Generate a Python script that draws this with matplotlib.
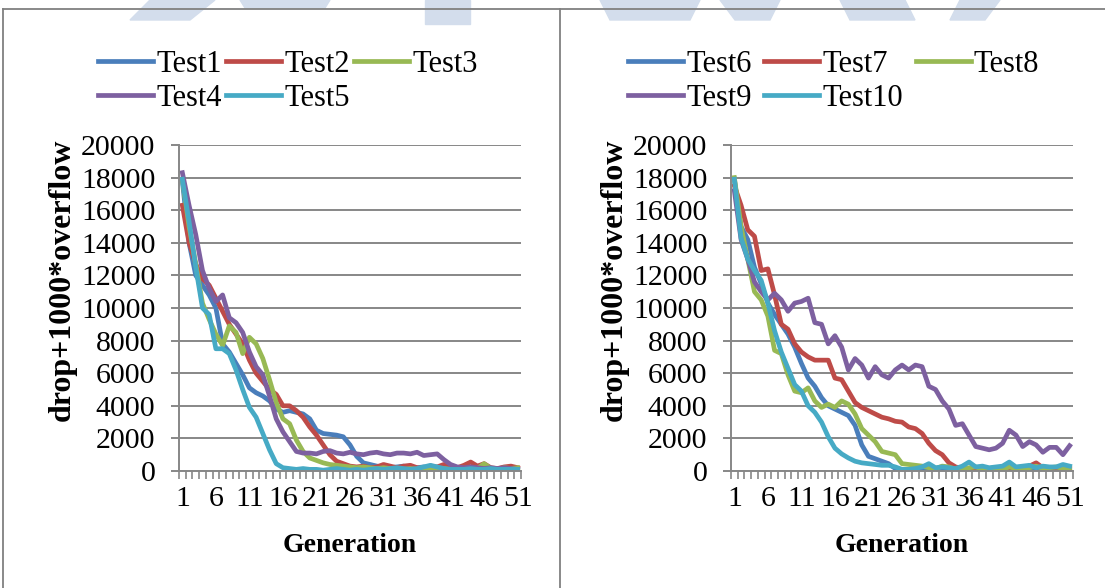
import matplotlib
matplotlib.use("Agg")
import matplotlib.pyplot as plt
from matplotlib.patches import Polygon
from matplotlib.lines import Line2D
import numpy as np

# generations 1..51
gens = np.arange(1, 52)
xtick_labels = [str(g) for g in range(1, 52, 5)]

left_names = ["Test1", "Test2", "Test3", "Test4", "Test5"]
right_names = ["Test6", "Test7", "Test8", "Test9", "Test10"]

test1 = [17800, 14000, 12000, 11400, 10800, 10000, 7800, 7300, 6600, 5900,
         5100, 4800, 4600, 4300, 3800, 3600, 3700, 3600, 3500, 3200,
         2500, 2300, 2250, 2200, 2100, 1600, 900, 500, 400, 300,
         250, 200, 250, 300, 150, 200, 250, 200, 150, 200,
         150, 100, 200, 150, 100, 200, 150, 100, 200, 150, 100]
test2 = [16300, 14000, 12700, 11800, 11400, 10600, 9800, 9000, 8400, 7800,
         6800, 6000, 5500, 5000, 4700, 4000, 4000, 3700, 3300, 2700,
         2200, 1600, 1000, 600, 450, 300, 250, 300, 200, 250,
         400, 300, 200, 300, 350, 200, 150, 300, 250, 400,
         300, 200, 350, 550, 300, 450, 200, 150, 250, 300, 200]
test3 = [17900, 15000, 12700, 10300, 9300, 8400, 7700, 8900, 8500, 7200,
         8200, 7800, 6900, 5600, 4200, 3200, 2900, 1900, 1200, 800,
         650, 500, 400, 350, 300, 250, 200, 250, 200, 150,
         200, 150, 100, 100, 150, 100, 150, 100, 150, 150,
         100, 150, 100, 200, 150, 450, 150, 100, 200, 150, 200]
test4 = [18300, 16300, 14500, 12300, 11200, 10400, 10800, 9400, 9100, 8500,
         7300, 6400, 5900, 4600, 3200, 2400, 1800, 1200, 1100, 1100,
         1050, 1200, 1250, 1100, 1050, 1150, 1050, 1000, 1100, 1150,
         1050, 1000, 1100, 1100, 1050, 1150, 950, 1000, 1050, 700,
         400, 250, 200, 250, 200, 150, 200, 150, 200, 150, 100]
test5 = [17900, 15300, 12500, 10000, 9600, 7500, 7500, 7200, 6200, 5000,
         3900, 3300, 2300, 1300, 450, 200, 150, 100, 150, 100,
         100, 50, 100, 150, 100, 50, 100, 50, 100, 150,
         100, 150, 200, 150, 100, 150, 250, 350, 250, 150,
         100, 100, 100, 150, 100, 100, 150, 100, 100, 100, 100]

test6 = [17900, 15000, 14200, 12500, 11500, 10300, 9600, 9000, 8400, 7600,
         6600, 5700, 5200, 4500, 4000, 3800, 3600, 3400, 2800, 1600,
         900, 750, 600, 450, 150, 50, 100, 0, 50, 100,
         0, 50, 100, 0, 50, 0, 100, 50, 0, 50,
         100, 0, 50, 100, 50, 0, 50, 100, 50, 0, 50]
test7 = [17500, 16300, 14800, 14400, 12300, 12400, 10800, 9000, 8700, 7800,
         7300, 7000, 6800, 6800, 6800, 5700, 5600, 4900, 4200, 3900,
         3700, 3500, 3300, 3200, 3050, 3000, 2700, 2600, 2300, 1700,
         1250, 1000, 500, 250, 150, 100, 50, 100, 0, 100,
         150, 100, 200, 250, 300, 500, 200, 150, 100, 200, 150]
test8 = [18000, 15000, 13000, 11000, 10500, 9500, 7400, 7200, 5900, 4900,
         4800, 5100, 4300, 3900, 4100, 3900, 4300, 4100, 3500, 2600,
         2200, 1800, 1200, 1100, 1000, 450, 400, 350, 300, 200,
         150, 300, 250, 100, 150, 200, 250, 100, 150, 200,
         100, 250, 150, 100, 200, 300, 150, 200, 250, 150, 200]
test9 = [17200, 14200, 13000, 11600, 11000, 10500, 10900, 10500, 9800, 10300,
         10400, 10600, 9100, 9000, 7800, 8300, 7600, 6200, 6900, 6500,
         5700, 6400, 5900, 5700, 6200, 6500, 6200, 6500, 6400, 5200,
         5000, 4300, 3800, 2800, 2900, 2200, 1500, 1400, 1300, 1400,
         1700, 2500, 2200, 1500, 1800, 1600, 1150, 1450, 1450, 1000, 1550]
test10 = [17900, 14300, 13000, 12300, 11700, 10300, 8600, 7300, 6300, 5300,
          4900, 4000, 3600, 3000, 2100, 1400, 1050, 800, 600, 500,
          450, 400, 350, 350, 250, 100, 100, 150, 250, 450,
          200, 250, 200, 150, 300, 550, 250, 300, 200, 250,
          300, 550, 250, 300, 350, 200, 300, 250, 250, 400, 300]

colors = ["#4a7ebb", "#be4b48", "#98b954", "#7d60a0", "#46aac5"]
grid_c = "#878787"

plt.rcParams["font.family"] = "Liberation Serif"

fig = plt.figure(figsize=(11.05, 5.88), dpi=100)

# faint watermark at the top edge
wm = "#d3ddec"
for pts in [[(150, 0), (215, 0), (190, 20), (130, 20)],
            [(240, 0), (330, 0), (325, 8), (245, 8)],
            [(425, 0), (470, 0), (470, 24), (425, 24)],
            [(600, 0), (700, 0), (690, 20), (610, 20)],
            [(720, 0), (780, 0), (770, 20), (735, 20)],
            [(840, 0), (905, 0), (915, 20), (850, 20)],
            [(960, 0), (1000, 0), (985, 20), (950, 20)]]:
    fig.patches.append(Polygon([(x / 1105, 1 - y / 588) for x, y in pts],
                               closed=True, transform=fig.transFigure,
                               color=wm, zorder=0))

# frame
frame_c = "#808080"
for xs, ys in [((3, 1105), (9, 9)), ((3, 3), (9, 588)), ((560, 560), (9, 588))]:
    fig.lines.append(Line2D([x / 1105 for x in xs], [1 - y / 588 for y in ys],
                            transform=fig.transFigure, color=frame_c, lw=1.3))

panels = [
    (179, left_names, [test1, test2, test3, test4, test5], 98, 0.15),
    (731, right_names, [test6, test7, test8, test9, test10], 628, 0.42),
]

for x0, names, series, leg_x, colsp in panels:
    ax = fig.add_axes([x0 / 1105, (588 - 471) / 588, 342 / 1105, 326 / 588])
    for name, vals, c in zip(names, series, colors):
        ax.plot(gens, vals, color=c, lw=3.4, label=name, solid_joinstyle="round")
    ax.set_xlim(0.5, 51.5)
    ax.set_ylim(0, 20000)
    ax.set_yticks(np.arange(0, 20001, 2000))
    ax.set_xticks(np.arange(1, 52, 5))
    ax.set_xticklabels(xtick_labels)
    ax.set_xticks(np.arange(0.5, 52, 1), minor=True)
    ax.grid(axis="y", color=grid_c, lw=1.4)
    ax.set_axisbelow(True)
    for s in ["top", "right"]:
        ax.spines[s].set_visible(False)
    for s in ["left", "bottom"]:
        ax.spines[s].set_color(grid_c)
        ax.spines[s].set_linewidth(1.4)
    ax.tick_params(axis="y", length=6, width=1.4, color=grid_c, labelsize=21.5, pad=11)
    ax.tick_params(axis="x", which="major", length=0, labelsize=21.5, pad=11)
    ax.tick_params(axis="x", which="minor", length=6, width=1.2, color=grid_c)
    ax.set_ylabel("drop+1000*overflow", fontsize=23, fontweight="bold")
    ax.yaxis.set_label_coords(-0.30, 0.585)
    ax.set_xlabel("Generation", fontsize=20, fontweight="bold", labelpad=15)
    # row-wise legend order for 3 columns
    h, l = ax.get_legend_handles_labels()
    order = [0, 3, 1, 4, 2]
    ax.legend([h[i] for i in order], [l[i] for i in order],
              loc="upper left", bbox_to_anchor=(leg_x / 1105, 1 - 50 / 588),
              bbox_transform=fig.transFigure, ncol=3, frameon=False,
              fontsize=22, handlelength=1.8, handletextpad=0.1,
              columnspacing=colsp, labelspacing=0.15,
              borderpad=0, borderaxespad=0)

fig.savefig("out.png", dpi=100)
